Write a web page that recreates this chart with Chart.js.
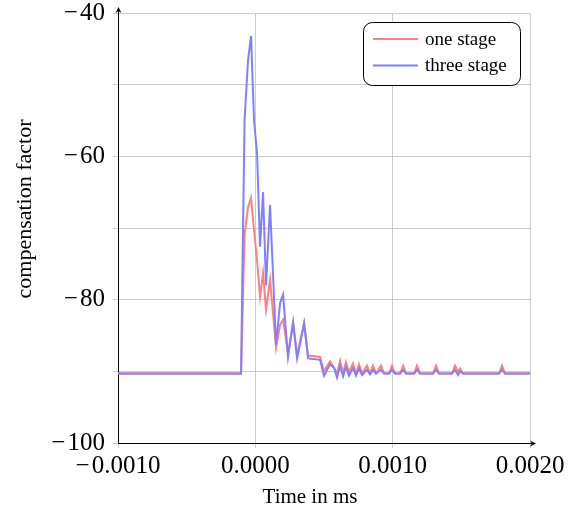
<!DOCTYPE html>
<html>
<head>
<meta charset="utf-8">
<script src="https://cdn.jsdelivr.net/npm/chart.js@4"></script>
<style>
  html, body { margin: 0; padding: 0; background: #fff; }
  #wrap { width: 578px; height: 515px; }
</style>
</head>
<body>
<div id="wrap"><canvas id="compChart" width="578" height="515"></canvas></div>
<script>
// time axis (ms), shared by both series
const timeMs = [-0.001, -0.000104, -0.0000786, -0.0000532, -0.0000313, -0.0000095, 0.0000124, 0.0000342,
  0.0000561, 0.0000779, 0.000107, 0.000151, 0.00018, 0.000202, 0.000238, 0.000275, 0.000304, 0.000355,
  0.000384, 0.000471, 0.0005, 0.000544, 0.000573, 0.000595, 0.000617, 0.000639, 0.00066, 0.000682,
  0.000711, 0.000733, 0.000755, 0.000777, 0.000813, 0.000835, 0.000857, 0.000879, 0.000915, 0.000937,
  0.000974, 0.000995, 0.001017, 0.001054, 0.001076, 0.001097, 0.001156, 0.001177, 0.001199, 0.001294,
  0.001316, 0.001338, 0.001432, 0.001454, 0.001476, 0.001491, 0.001512, 0.001775, 0.001796, 0.001818, 0.002];

const oneStage = [-90.3, -90.3, -71, -67.1, -65.8, -70.3, -74.5, -79.6,
  -76.3, -81.4, -77.2, -86.7, -83.5, -82.8, -87.5, -83.3, -87.8, -83.3,
  -87.8, -88.0, -90.0, -88.6, -89.5, -90.3, -88.5, -90.3, -88.7, -90.2,
  -88.9, -90.3, -89.0, -90.3, -89.2, -90.3, -89.2, -90.3, -89.2, -90.3,
  -90.3, -89.2, -90.3, -90.3, -89.2, -90.3, -90.3, -89.2, -90.3, -90.3,
  -89.2, -90.3, -90.3, -89.2, -90.1, -89.6, -90.3, -90.3, -89.2, -90.3, -90.3];

const threeStage = [-90.3, -90.3, -55, -46.6, -43.2, -55, -59.5, -72.6,
  -65, -78, -66.8, -86.3, -80.5, -79.3, -88, -83.1, -88.2, -83.3,
  -88.2, -88.4, -90.6, -89, -89.5, -90.9, -89.2, -90.7, -89.3, -90.6,
  -89.5, -90.6, -89.6, -90.5, -89.8, -90.4, -89.8, -90.3, -89.8, -90.3,
  -90.3, -89.8, -90.3, -90.3, -89.8, -90.3, -90.3, -89.8, -90.3, -90.3,
  -89.8, -90.3, -90.3, -89.8, -90.5, -90, -90.3, -90.3, -89.8, -90.3, -90.3];

const seriesLabels = ['one stage', 'three stage'];
const xTickLabels = [-0.001, 0, 0.001, 0.002];
const yTickLabels = [-100, -80, -60, -40];
const xTitle = 'Time in ms';
const yTitle = 'compensation factor';

const serif = "'Liberation Serif', 'Times New Roman', serif";
const minus = s => s.replace('-', '\u2212\u200a');

const toPoints = ys => timeMs.map((t, i) => ({ x: t, y: ys[i] }));

// arrow heads at the end of both axes
const axisArrows = {
  id: 'axisArrows',
  afterDraw(chart) {
    const { ctx, chartArea: a } = chart;
    ctx.save();
    ctx.strokeStyle = '#000';
    ctx.fillStyle = '#000';
    ctx.lineWidth = 1;
    ctx.beginPath();
    ctx.moveTo(a.left + 0.5, a.top);
    ctx.lineTo(a.left + 0.5, a.top - 4);
    ctx.moveTo(a.right, a.bottom + 0.5);
    ctx.lineTo(a.right + 4, a.bottom + 0.5);
    ctx.stroke();
    ctx.beginPath();
    ctx.moveTo(a.left + 0.5, a.top - 6);
    ctx.lineTo(a.left - 2.5, a.top);
    ctx.lineTo(a.left + 0.5, a.top - 2);
    ctx.lineTo(a.left + 3.5, a.top);
    ctx.closePath();
    ctx.fill();
    ctx.beginPath();
    ctx.moveTo(a.right + 6, a.bottom + 0.5);
    ctx.lineTo(a.right, a.bottom - 2.5);
    ctx.lineTo(a.right + 2, a.bottom + 0.5);
    ctx.lineTo(a.right, a.bottom + 3.5);
    ctx.closePath();
    ctx.fill();
    ctx.restore();
  }
};

// axis titles, placed like pgfplots does (a bit off the axis centre)
const axisTitles = {
  id: 'axisTitles',
  afterDraw(chart) {
    const { ctx, chartArea: a } = chart;
    ctx.save();
    ctx.fillStyle = '#000';
    ctx.textAlign = 'center';
    ctx.textBaseline = 'middle';
    ctx.font = '21px ' + serif;
    ctx.fillText(xTitle, (a.left + a.right) / 2 - 14, 497);
    ctx.font = '22px ' + serif;
    ctx.translate(25, (a.top + a.bottom) / 2 - 19);
    ctx.rotate(-Math.PI / 2);
    ctx.fillText(yTitle, 0, 0);
    ctx.restore();
  }
};

// pgfplots style legend box in the upper right corner
const boxLegend = {
  id: 'boxLegend',
  afterDraw(chart) {
    const { ctx, chartArea: a } = chart;
    const x = a.right - 167, y = a.top + 9, w = 157, h = 63, r = 9;
    ctx.save();
    ctx.beginPath();
    ctx.roundRect(x + 0.5, y + 0.5, w, h, r);
    ctx.fillStyle = '#fff';
    ctx.fill();
    ctx.strokeStyle = '#000';
    ctx.lineWidth = 1;
    ctx.stroke();
    ctx.font = '19px ' + serif;
    ctx.textBaseline = 'middle';
    chart.data.datasets.forEach((ds, i) => {
      const ly = y + 17 + i * 26.5;
      ctx.beginPath();
      ctx.moveTo(x + 10, ly);
      ctx.lineTo(x + 55, ly);
      ctx.strokeStyle = ds.borderColor;
      ctx.lineWidth = 2;
      ctx.stroke();
      ctx.fillStyle = '#000';
      ctx.fillText(ds.label, x + 62, ly + 1);
    });
    ctx.restore();
  }
};

new Chart(document.getElementById('compChart'), {
  type: 'line',
  data: {
    datasets: [{
      label: seriesLabels[0],
      data: toPoints(oneStage),
      borderColor: 'rgb(255, 128, 128)',
      borderWidth: 2,
      pointRadius: 0,
      tension: 0,
      order: 1
    }, {
      label: seriesLabels[1],
      data: toPoints(threeStage),
      borderColor: 'rgb(128, 128, 255)',
      borderWidth: 2,
      pointRadius: 0,
      tension: 0,
      order: 0
    }]
  },
  options: {
    responsive: false,
    animation: false,
    layout: { padding: { top: 13, right: 48, left: 0, bottom: 0 } },
    plugins: { legend: { display: false }, tooltip: { enabled: false } },
    scales: {
      x: {
        type: 'linear',
        min: -0.001,
        max: 0.002,
        afterFit: s => { s.height = 72; s.paddingLeft = 0; s.paddingRight = 0; },
        grid: { color: '#cccccc', tickLength: 5 },
        border: { color: '#000', width: 1 },
        ticks: {
          stepSize: 0.0005,
          maxRotation: 0,
          padding: 3,
          color: '#000',
          font: { family: serif, size: 25 },
          callback: v => {
            const hit = xTickLabels.find(t => Math.abs(t - v) < 1e-9);
            return hit === undefined ? '' : minus(hit.toFixed(4));
          }
        }
      },
      y: {
        min: -100,
        max: -40,
        afterFit: s => { s.width = 118; s.paddingTop = 0; s.paddingBottom = 0; },
        grid: { color: '#cccccc', tickLength: 5 },
        border: { color: '#000', width: 1 },
        ticks: {
          stepSize: 10,
          padding: 8,
          color: '#000',
          font: { family: serif, size: 25 },
          callback: v => yTickLabels.includes(v) ? minus(String(v)) : ''
        }
      }
    }
  },
  plugins: [axisArrows, axisTitles, boxLegend]
});
</script>
</body>
</html>
